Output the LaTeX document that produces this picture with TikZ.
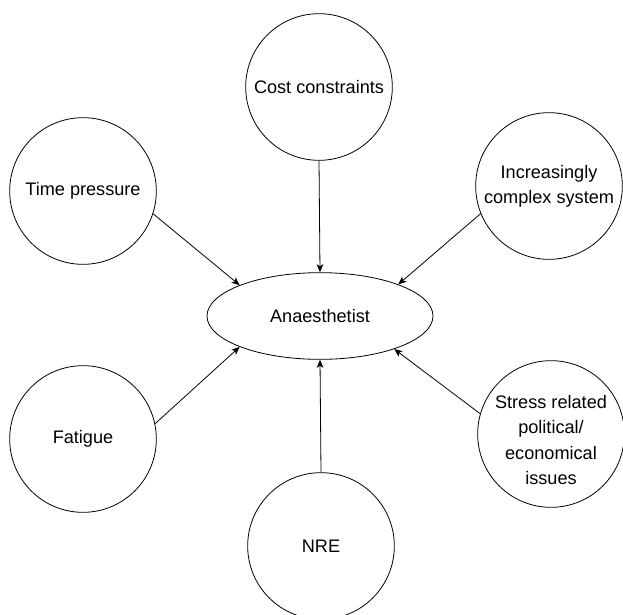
\documentclass[tikz,border=0pt]{standalone}
\usepackage{fontspec}
\setmainfont{Liberation Sans}
\usetikzlibrary{arrows.meta,shapes.geometric}
\begin{document}
\begin{tikzpicture}[x=0.75pt,y=-0.75pt,
  every node/.style={font=\fontsize{13.6pt}{19pt}\selectfont},
  factor/.style={draw,circle,line width=0.6pt,minimum size=110pt,inner sep=0pt,align=center},
  centre/.style={draw,ellipse,line width=0.6pt,minimum width=169.5pt,minimum height=65pt,inner sep=0pt},
  link/.style={line width=0.6pt,-{Stealth[length=6pt,width=5pt,inset=1.5pt]}}]
\useasboundingbox (0,0) rectangle (623,614);
\node[centre] (an) at (320,316) {Anaesthetist};
\node[factor] (cost) at (319,87) {Cost constraints};
\node[factor] (time) at (83,191) {Time pressure};
\node[factor] (inc) at (549,186) {Increasingly\\complex system};
\node[factor] (fat) at (83,439) {Fatigue};
\node[factor,label={[align=center,yshift=-4.5pt]center:Stress related\\political/\\economical\\issues}] (str) at (551,434) {};
\node[factor] (nre) at (321,546) {NRE};
\draw[link] (cost.south) -- (an.north);
\draw[link] (time.-18) -- (an.159);
\draw[link] (inc.202) -- (an.22);
\draw[link] (fat.12) -- (an.201);
\draw[link] (str.164) -- (an.336);
\draw[link] (nre.north) -- (an.south);
\end{tikzpicture}
\end{document}
